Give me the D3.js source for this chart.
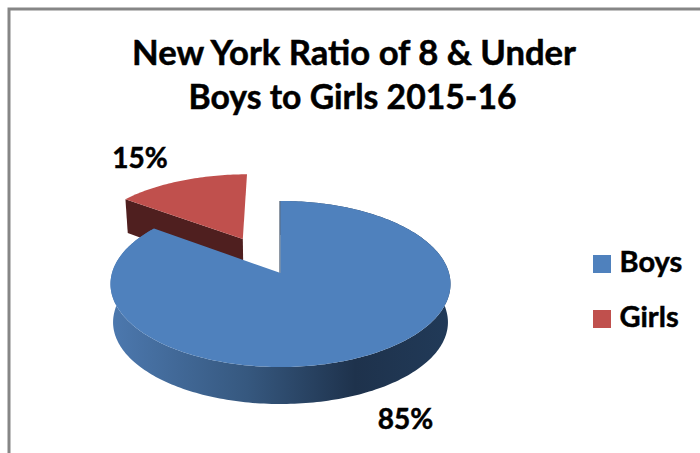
<!DOCTYPE html>
<html>
<head>
<meta charset="utf-8">
<script src="https://cdn.jsdelivr.net/npm/d3@7"></script>
<style>
  html, body { margin: 0; background: #fff; }
  text { font-family: Lato, "Open Sans", sans-serif; font-weight: 700; fill: #000; stroke: #000; stroke-width: 0.5px; }
</style>
</head>
<body>
<svg id="main" width="700" height="453"></svg>
<script>
//--------data----------
const categories = ['Boys', 'Girls'];
const values = [85, 15];
const valueLabels = ['85%', '15%'];
const titleLines = ['New York Ratio of 8 & Under', 'Boys to Girls 2015-16'];
const topColors = ['#4f81bd', '#c0504d'];
const explode = [0, 0.495];

//--------code----------
const width = 700, height = 453;
const svg = d3.select('#main');

// frame, only top and left show in the crop
svg.append('path')
  .attr('d', d3.line()([[9, height], [9, 9], [width, 9]]))
  .attr('fill', 'none')
  .attr('stroke', '#868686')
  .attr('stroke-width', 3);

// Lato runs a little wide on the second line, so both lines get a fixed length
const titleLength = [444, 328];
svg.selectAll('.title')
  .data(titleLines)
  .join('text')
  .attr('class', 'title')
  .attr('x', (d, i) => i ? 352.5 : 354)
  .attr('y', (d, i) => 65 + i * 44)
  .attr('text-anchor', 'middle')
  .attr('textLength', (d, i) => titleLength[i])
  .attr('lengthAdjust', 'spacingAndGlyphs')
  .style('font-size', '34.8px')
  .text(d => d);

// perspective view of the pie disc, unit circle -> screen
const cx = 280.5, apexY = 273, radius = 168.5;
const persp = 0.1325, tilt = -45.4, depth = 38.4, bottomShrink = 0.985;

function project(u, v, bottom) {
  const w = 1 + persp * v;
  const x = radius * u / w;
  const y = tilt * v / w + apexY * (1 / w - 1);
  // y is relative to the apex, far side of the wall is a bit shorter
  if (bottom) {
    const d = depth * (v < 0 ? 1 : 1 - 0.14 * v);
    return [cx + x * bottomShrink, apexY + y * bottomShrink + d];
  }
  return [cx + x, apexY + y];
}

const pie = d3.pie().sort(null).value((d, i) => values[i]);
const slices = pie(categories).map((s, i) => {
  const mid = (s.startAngle + s.endAngle) / 2;
  return {
    ...s,
    index: i,
    ox: explode[i] * Math.sin(mid) - (i ? 0.012 : 0),
    oy: explode[i] * Math.cos(mid)
  };
});

function rimPoint(s, a, bottom) {
  return project(Math.sin(a) + s.ox, Math.cos(a) + s.oy, bottom);
}
function rim(s, a0, a1, bottom) {
  const n = Math.max(2, Math.ceil(Math.abs(a1 - a0) / 0.02));
  return d3.range(n + 1).map(i => rimPoint(s, a0 + (a1 - a0) * i / n, bottom));
}
const line = d3.line();
const close = pts => line(pts) + 'Z';

const defs = svg.append('defs');
const grad = defs.append('linearGradient')
  .attr('id', 'boysSide')
  .attr('gradientUnits', 'userSpaceOnUse')
  .attr('x1', 112).attr('x2', 450).attr('y1', 0).attr('y2', 0);
grad.selectAll('stop')
  .data([[0, '#4c78ae'], [0.4, '#36587f'], [0.72, '#1e324c'], [1, '#213a58']])
  .join('stop')
  .attr('offset', d => d[0])
  .attr('stop-color', d => d[1]);

const boys = slices[0], girls = slices[1];
const girlsApex = [project(girls.ox, girls.oy), project(girls.ox, girls.oy, true)];

// girls first, boys sit in front of it
svg.append('path')
  .attr('d', close([
    rimPoint(girls, girls.startAngle),
    girlsApex[0],
    girlsApex[1],
    rimPoint(girls, girls.startAngle, true)
  ]))
  .attr('fill', '#4f1f1f');
svg.append('path')
  .attr('d', close([girlsApex[0], ...rim(girls, girls.startAngle, girls.endAngle)]))
  .attr('fill', topColors[1]);

// side wall of boys, then the thin cut edge at 12 o'clock
svg.append('path')
  .attr('d', close([
    ...rim(boys, boys.startAngle, boys.endAngle),
    ...rim(boys, boys.endAngle, boys.startAngle, true)
  ]))
  .attr('fill', 'url(#boysSide)');
svg.append('path')
  .attr('d', close([project(0, 0), project(0, 1), [project(0, 1)[0] - 1, project(0, 1)[1]], [project(0, 0)[0] - 1, project(0, 0)[1]]]))
  .attr('fill', '#1e324c');
svg.append('path')
  .attr('d', close([project(0, 0), ...rim(boys, boys.startAngle, boys.endAngle)]))
  .attr('fill', topColors[0]);

// value labels
const labelPos = [[405.5, 429], [140, 168]];
svg.selectAll('.valueLabel')
  .data(valueLabels)
  .join('text')
  .attr('class', 'valueLabel')
  .attr('x', (d, i) => labelPos[i][0])
  .attr('y', (d, i) => labelPos[i][1])
  .attr('text-anchor', 'middle')
  .style('font-size', '28px')
  .text(d => d);

// legend
const legendY = d3.scalePoint().domain(categories).range([264, 319]);
const legend = svg.selectAll('.legend')
  .data(categories)
  .join('g')
  .attr('class', 'legend')
  .attr('transform', d => `translate(593,${legendY(d)})`);
legend.append('rect')
  .attr('y', -9)
  .attr('width', 18)
  .attr('height', 18)
  .attr('fill', (d, i) => topColors[i]);
legend.append('text')
  .attr('x', 26.5)
  .attr('y', 8)
  .style('font-size', '29px')
  .text(d => d);
</script>
</body>
</html>
